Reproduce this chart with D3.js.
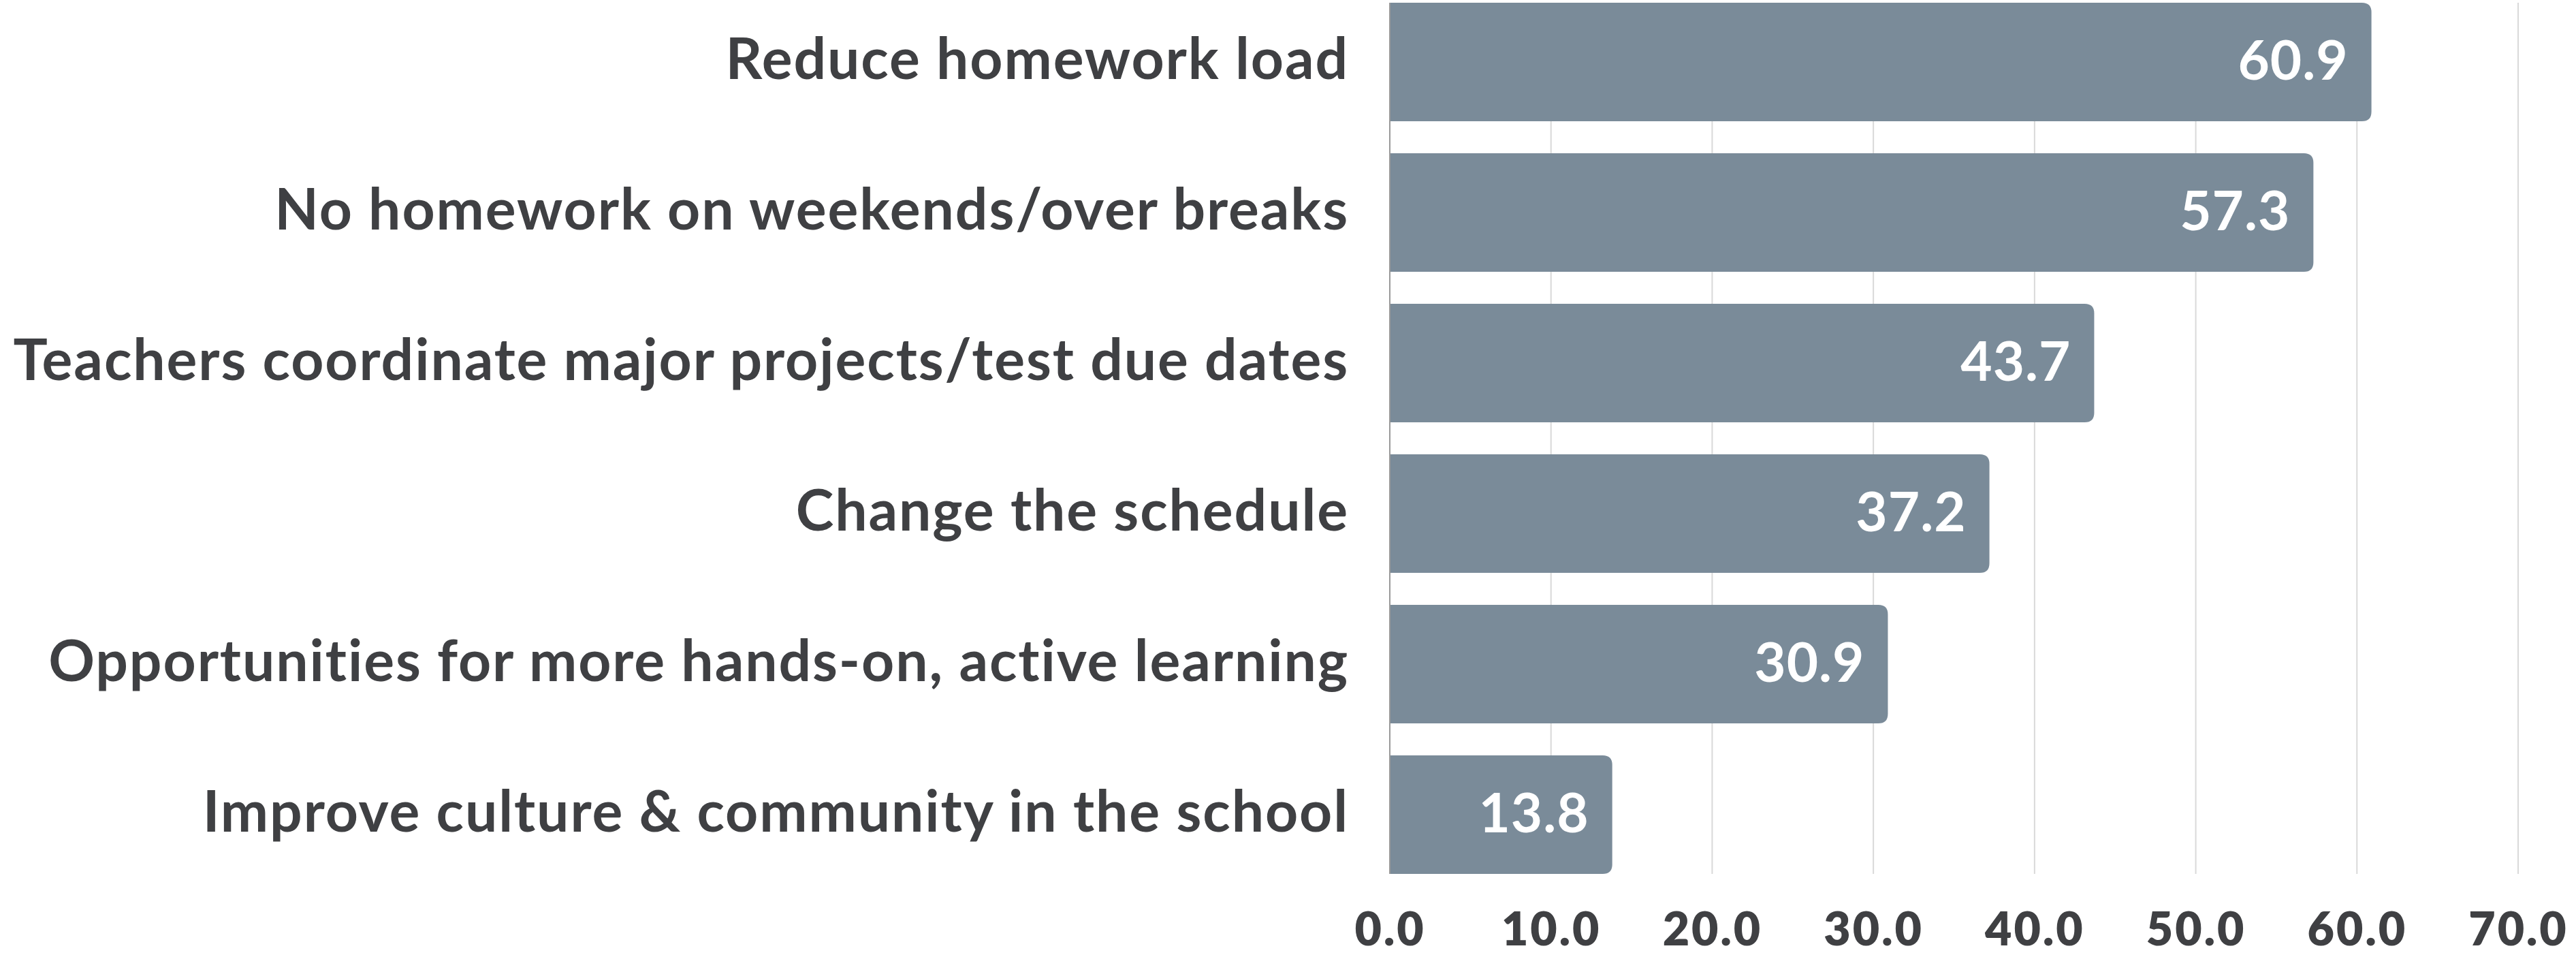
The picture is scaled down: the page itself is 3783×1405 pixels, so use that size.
<!DOCTYPE html>
<html>
<head>
<meta charset="utf-8">
<script src="https://cdn.jsdelivr.net/npm/d3@7"></script>
<style>
  html, body { margin: 0; padding: 0; background: #ffffff; }
  svg { display: block; }
</style>
</head>
<body>
<svg id="chart" width="3783" height="1405"></svg>
<script>
const categories = [
  "Reduce homework load",
  "No homework on weekends/over breaks",
  "Teachers coordinate major projects/test due dates",
  "Change the schedule",
  "Opportunities for more hands-on, active learning",
  "Improve culture & community in the school"
];
const values = [60.9, 57.3, 43.7, 37.2, 30.9, 13.8];
const tickValues = [0, 10, 20, 30, 40, 50, 60, 70];
const tickLabels = ["0.0", "10.0", "20.0", "30.0", "40.0", "50.0", "60.0", "70.0"];

(function () {
const plotLeft = 2041, plotRight = 3698, plotTop = 4, plotBottom = 1283;
const font = "Lato, 'Open Sans', sans-serif";
const textColor = "#3f4043";
const barColor = "#7a8b99";

const svg = d3.select("#chart");
const x = d3.scaleLinear().domain([0, 70]).range([plotLeft, plotRight]);
const y = d3.scaleBand().domain(categories).range([plotTop, plotBottom]).paddingInner(0.213).paddingOuter(0);

// gridlines
svg.append("g").selectAll("line").data(tickValues.slice(1)).join("line")
  .attr("x1", d => x(d)).attr("x2", d => x(d))
  .attr("y1", plotTop).attr("y2", plotBottom)
  .attr("stroke", "#d9d9d9").attr("stroke-width", 2);

// bars with rounded right corners
const r = 14;
function barPath(x0, x1, y0, h) {
  const rr = Math.min(r, (x1 - x0) / 2, h / 2);
  return `M${x0},${y0}H${x1 - rr}Q${x1},${y0} ${x1},${y0 + rr}V${y0 + h - rr}Q${x1},${y0 + h} ${x1 - rr},${y0 + h}H${x0}Z`;
}
const data = categories.map((c, i) => ({ c, v: values[i] }));
svg.append("g").selectAll("path").data(data).join("path")
  .attr("d", d => barPath(x(0), x(d.v), y(d.c), y.bandwidth()))
  .attr("fill", barColor);

// zero axis line
svg.append("line")
  .attr("x1", x(0)).attr("x2", x(0)).attr("y1", plotTop).attr("y2", plotBottom)
  .attr("stroke", "#9a9a9a").attr("stroke-width", 2);

// value labels
svg.append("g").selectAll("text").data(data).join("text")
  .attr("x", d => x(d.v) - 34)
  .attr("y", d => y(d.c) + y.bandwidth() / 2 + 26)
  .attr("text-anchor", "end")
  .attr("font-family", font).attr("font-weight", 700).attr("font-size", 80)
  .attr("letter-spacing", 1)
  .attr("fill", "#ffffff")
  .text(d => d.v.toFixed(1));

// category labels
const yAxis = d3.axisLeft(y).tickSize(0).tickPadding(60);
const gy = svg.append("g").attr("transform", `translate(${plotLeft},0)`).call(yAxis);
gy.select(".domain").remove();
gy.selectAll("text")
  .attr("dy", null).attr("dominant-baseline", "alphabetic")
  .attr("y", 25)
  .attr("font-family", font).attr("font-weight", 700).attr("font-size", 84)
  .attr("letter-spacing", 1.9)
  .attr("fill", textColor);

// x axis tick labels
const xAxis = d3.axisBottom(x).tickValues(tickValues).tickFormat((d, i) => tickLabels[i]).tickSize(0).tickPadding(0);
const gx = svg.append("g").attr("transform", `translate(0,${plotBottom})`).call(xAxis);
gx.select(".domain").remove();
gx.selectAll("text")
  .attr("dy", null).attr("y", 105)
  .attr("font-family", font).attr("font-weight", 800).attr("font-size", 68)
  .attr("letter-spacing", 3)
  .attr("fill", textColor);
})();
</script>
</body>
</html>
